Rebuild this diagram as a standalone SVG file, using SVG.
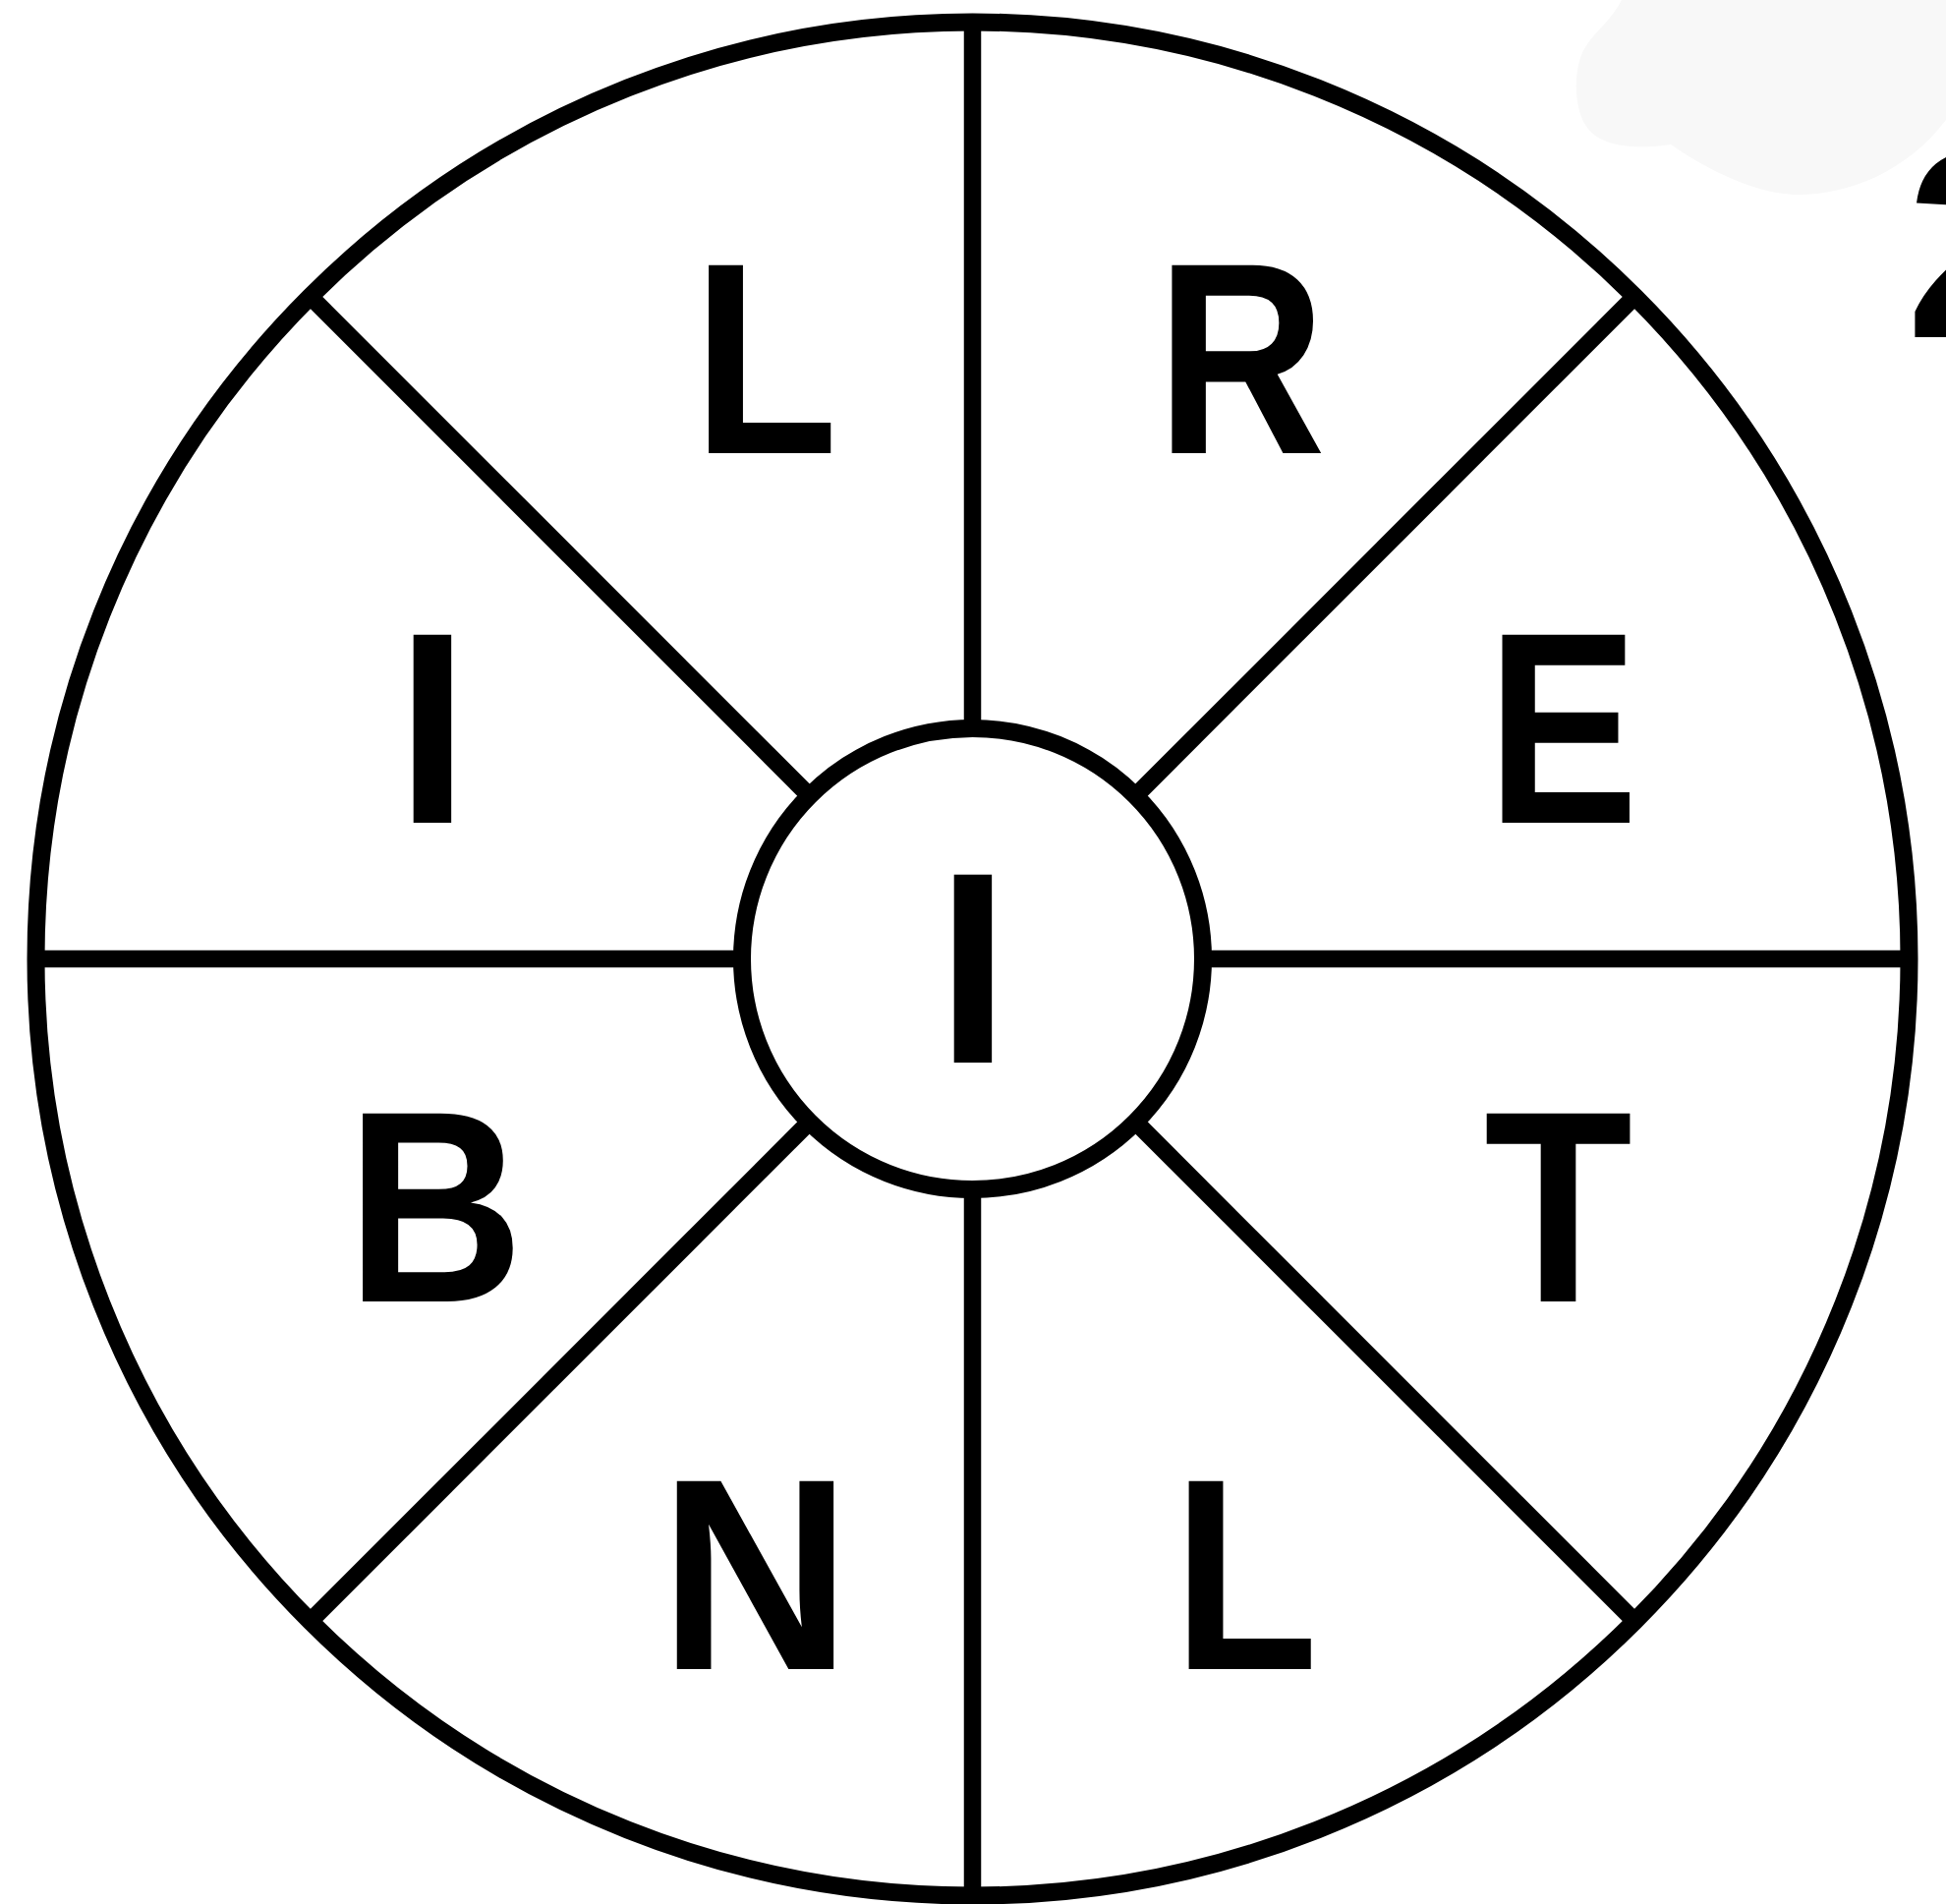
<svg xmlns="http://www.w3.org/2000/svg" width="1980" height="1937" viewBox="0 0 1980 1937">
  <style>
    .ring { fill: #ffffff; stroke: #000000; stroke-width: 18; }
    .spoke { stroke: #000000; stroke-width: 17.5; fill: none; }
    .big { font-family: "Liberation Sans", Arial, sans-serif; font-weight: bold; font-size: 278px; fill: #000000; text-anchor: middle; }
  </style>
  <rect x="0" y="0" width="1980" height="1937" fill="#ffffff"/>
  <path d="M 1650 0 C 1640 20, 1625 30, 1615 45 C 1600 65, 1600 110, 1615 130 C 1630 150, 1665 152, 1700 147 C 1740 175, 1790 198, 1830 198 C 1880 198, 1940 175, 1980 122 L 1980 0 Z" fill="#f8f8f8"/>
  <text x="1939" y="343" font-family="Liberation Sans, Arial, sans-serif" font-weight="bold" font-size="272" fill="#000000">2</text>

  <g id="outer-wheel">
    <circle class="ring" cx="989.5" cy="975.5" r="953"/>
  </g>

  <g id="connectors">
    <line class="spoke" x1="989.5" y1="741" x2="989.5" y2="22.5"/>
    <line class="spoke" x1="989.5" y1="1210" x2="989.5" y2="1928.5"/>
    <line class="spoke" x1="755" y1="975.5" x2="36.5" y2="975.5"/>
    <line class="spoke" x1="1224" y1="975.5" x2="1942.5" y2="975.5"/>
    <line class="spoke" x1="823.7" y1="809.7" x2="315.6" y2="301.6"/>
    <line class="spoke" x1="1155.3" y1="809.7" x2="1663.4" y2="301.6"/>
    <line class="spoke" x1="823.7" y1="1141.3" x2="315.6" y2="1649.4"/>
    <line class="spoke" x1="1155.3" y1="1141.3" x2="1663.4" y2="1649.4"/>
  </g>

  <g id="hub">
    <circle class="ring" cx="989.5" cy="975.5" r="234.5"/>
    <g transform="translate(988,1081) scale(0.96,1)">
      <text class="big" x="2" y="0">I</text>
    </g>
  </g>

  <g id="seg-top-left">
    <g transform="translate(784,461) scale(0.87,1)">
      <text class="big" x="-6" y="0">L</text>
    </g>
  </g>
  <g id="seg-top-right">
    <g transform="translate(1270.5,461) scale(0.86,1)">
      <text class="big" x="-9" y="0">R</text>
    </g>
  </g>
  <g id="seg-left-upper">
    <g transform="translate(438,837) scale(0.96,1)">
      <text class="big" x="2" y="0">I</text>
    </g>
  </g>
  <g id="seg-right-upper">
    <g transform="translate(1592.5,837) scale(0.83,1)">
      <text class="big" x="-3" y="0">E</text>
    </g>
  </g>
  <g id="seg-left-lower">
    <g transform="translate(444.5,1324) scale(0.9,1)">
      <text class="big" x="-2" y="0">B</text>
    </g>
  </g>
  <g id="seg-right-lower">
    <g transform="translate(1585.5,1324) scale(0.89,1)">
      <text class="big" x="0" y="0">T</text>
    </g>
  </g>
  <g id="seg-bottom-left">
    <g transform="translate(768.5,1698) scale(0.975,1)">
      <text class="big" x="0" y="0">N</text>
    </g>
  </g>
  <g id="seg-bottom-right">
    <g transform="translate(1272.5,1698) scale(0.87,1)">
      <text class="big" x="-6" y="0">L</text>
    </g>
  </g>
</svg>
